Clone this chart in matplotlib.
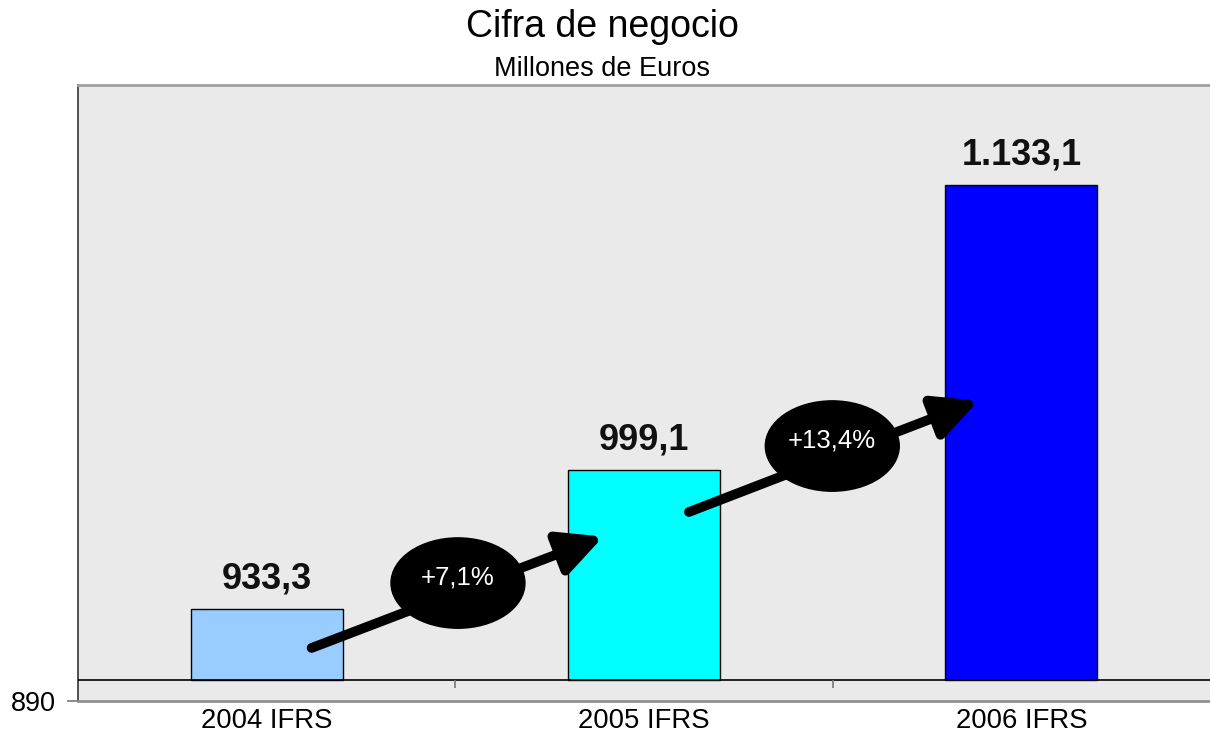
import matplotlib
matplotlib.use('Agg')
import matplotlib.pyplot as plt
from matplotlib.patches import Ellipse

plt.rcParams['font.family'] = ['Liberation Sans', 'DejaVu Sans']

# data
categories = ['2004 IFRS', '2005 IFRS', '2006 IFRS']
values = [933.3, 999.1, 1133.1]
value_labels = ['933,3', '999,1', '1.133,1']
bar_colors = ['#99CCFF', '#00FFFF', '#0000FF']
growth_labels = ['+7,1%', '+13,4%']
base = 900
# arrow annotations (start, end) and ellipse centres, in data units
arrow_starts = [(0.119, 915.0), (1.119, 979.1)]
arrow_ends = [(0.892, 967.5), (1.886, 1031.6)]
ellipse_centres = [(0.507, 945.6), (1.499, 1010.2)]

fig = plt.figure(figsize=(12.1, 7.35), dpi=100)
ax = fig.add_axes([78/1210, 1 - 701/735, 1 - 78/1210, (701 - 85)/735])
ax.set_facecolor('#EAEAEA')

x = list(range(len(categories)))
heights = [v - base for v in values]
ax.bar(x, heights, bottom=base, width=0.403, color=bar_colors,
       edgecolor='black', linewidth=1, zorder=3)

for xi, v, lab in zip(x, values, value_labels):
    ax.annotate(lab, (xi, v), xytext=(0, 9), textcoords='offset points',
                ha='center', va='bottom', fontsize=26, fontweight='bold',
                color='#111111', zorder=5)

# category axis line at 900 with tick marks between categories
ax.axhline(base, color='black', lw=1.2, zorder=4)
for t in [0.5, 1.5]:
    ax.plot([t, t], [base, base - 3.8], color='#777777', lw=1.2, zorder=4,
            solid_capstyle='butt')

# growth arrows with ellipses
for s, e, c, lab in zip(arrow_starts, arrow_ends, ellipse_centres, growth_labels):
    ax.annotate('', xy=e, xytext=s,
                arrowprops=dict(arrowstyle='-|>,head_length=1.2,head_width=0.6',
                                color='black', lw=7, mutation_scale=22,
                                shrinkA=0, shrinkB=0),
                zorder=6)
    ax.add_patch(Ellipse(c, 0.355, 42.6, color='black', zorder=7))
    ax.text(c[0], c[1] + 2.5, lab, ha='center', va='center', color='white',
            fontsize=18.5, zorder=8)

ax.set_xlim(-0.5, 2.5)
ax.set_ylim(890, 1180.4)
ax.set_xticks(x)
ax.set_xticklabels(categories, fontsize=19.8)
ax.tick_params(axis='x', length=0, pad=5)
ax.set_yticks([890])
ax.set_yticklabels(['890'], fontsize=19.5)
ax.tick_params(axis='y', length=8, color='#777777', width=1.2, pad=8)

ax.spines['top'].set_color('#A0A0A0')
ax.spines['top'].set_linewidth(2)
ax.spines['bottom'].set_color('#909090')
ax.spines['bottom'].set_linewidth(2)
ax.spines['left'].set_color('#333333')
ax.spines['left'].set_linewidth(1.2)
ax.spines['right'].set_visible(False)

fig.text(602/1210, 1 - 37/735, 'Cifra de negocio', ha='center', va='baseline', fontsize=27)
fig.text(602/1210, 1 - 76/735, 'Millones de Euros', ha='center', va='baseline', fontsize=19.5)

fig.savefig('out.png', dpi=100)
